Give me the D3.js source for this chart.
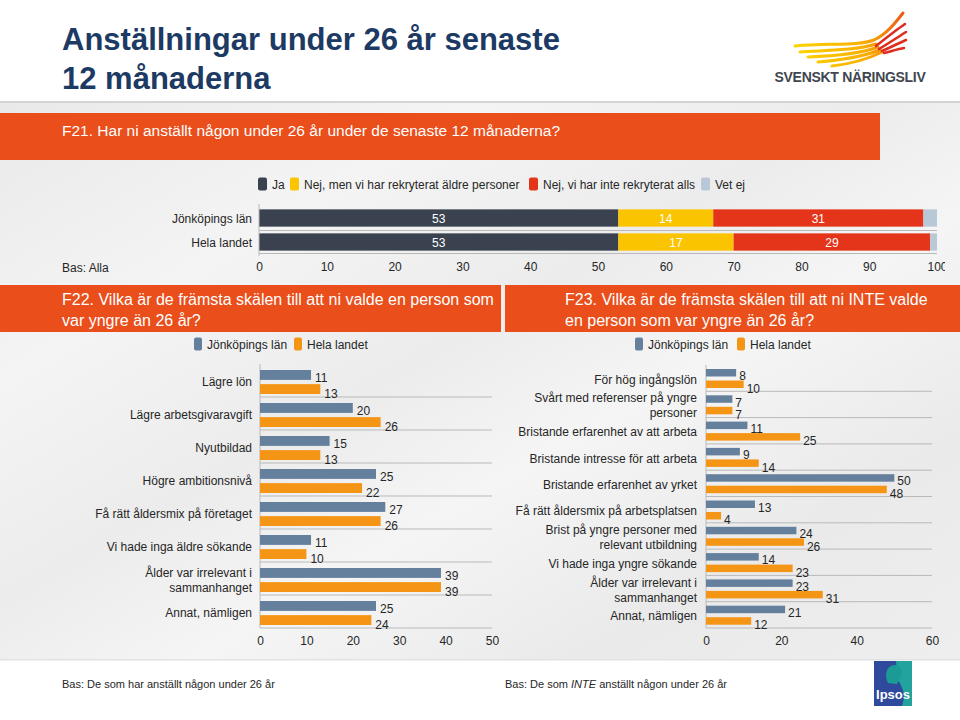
<!DOCTYPE html>
<html><head><meta charset="utf-8">
<script src="https://cdn.jsdelivr.net/npm/d3@7"></script>
<style>
body{margin:0;background:#fff;}
svg{display:block;font-family:"Liberation Sans",Arial,sans-serif;}
</style></head><body>
<svg id="c" width="960" height="720"></svg>
<script>
// ---------- DATA ----------
const f21Categories = ["Jönköpings län", "Hela landet"];
const f21SeriesNames = ["Ja", "Nej, men vi har rekryterat äldre personer", "Nej, vi har inte rekryterat alls", "Vet ej"];
const f21Ja = [53, 53];
const f21NejAldre = [14, 17];
const f21NejAlls = [31, 29];
const f21VetEj = [2, 1];
const f21Ticks = [0, 10, 20, 30, 40, 50, 60, 70, 80, 90, 100];

const seriesNames2 = ["Jönköpings län", "Hela landet"];

const f22Categories = ["Lägre lön", "Lägre arbetsgivaravgift", "Nyutbildad", "Högre ambitionsnivå",
  "Få rätt åldersmix på företaget", "Vi hade inga äldre sökande", "Ålder var irrelevant i\nsammanhanget", "Annat, nämligen"];
const f22Jonkoping = [11, 20, 15, 25, 27, 11, 39, 25];
const f22HelaLandet = [13, 26, 13, 22, 26, 10, 39, 24];
const f22Ticks = [0, 10, 20, 30, 40, 50];

const f23Categories = ["För hög ingångslön", "Svårt med referenser på yngre\npersoner", "Bristande erfarenhet av att arbeta",
  "Bristande intresse för att arbeta", "Bristande erfarenhet av yrket", "Få rätt åldersmix på arbetsplatsen",
  "Brist på yngre personer med\nrelevant utbildning", "Vi hade inga yngre sökande", "Ålder var irrelevant i\nsammanhanget", "Annat, nämligen"];
const f23Jonkoping = [8, 7, 11, 9, 50, 13, 24, 14, 23, 21];
const f23HelaLandet = [10, 7, 25, 14, 48, 4, 26, 23, 31, 12];
const f23Ticks = [0, 20, 40, 60];

// ---------- STYLE ----------
const C = {
  title: "#1c3a63", orange: "#e94e1b", text: "#262626",
  ja: "#39424e", nejAldre: "#fac400", nejAlls: "#e4341a", vetEj: "#b9c8d6",
  blue: "#64809d", org: "#f59516", grid: "#b9b9b9"
};
const svg = d3.select("#c");
const defs = svg.append("defs");

// background
const bg = defs.append("linearGradient").attr("id", "bg").attr("x1", 0).attr("y1", 0).attr("x2", 1).attr("y2", 1);
[[0, "#e9e9e9"], [0.25, "#f4f4f4"], [0.45, "#ececec"], [0.6, "#f5f5f5"], [0.8, "#eaeaea"], [1, "#eeeeee"]]
  .forEach(s => bg.append("stop").attr("offset", s[0]).attr("stop-color", s[1]));
svg.append("rect").attr("width", 960).attr("height", 720).attr("fill", "#fff");
svg.append("rect").attr("y", 103).attr("width", 960).attr("height", 557).attr("fill", "url(#bg)");
svg.append("rect").attr("y", 101).attr("width", 960).attr("height", 2).attr("fill", "#d4d4d4");
svg.append("rect").attr("y", 659).attr("width", 960).attr("height", 1.5).attr("fill", "#e2e2e2");

// title
svg.append("text").attr("x", 62).attr("y", 50).attr("font-size", 31).attr("font-weight", "bold")
  .attr("fill", C.title).text("Anställningar under 26 år senaste");
svg.append("text").attr("x", 62).attr("y", 89).attr("font-size", 31).attr("font-weight", "bold")
  .attr("fill", C.title).text("12 månaderna");

// Svenskt Näringsliv logo
const wg = defs.append("linearGradient").attr("id", "wing").attr("gradientUnits", "userSpaceOnUse")
  .attr("x1", 795).attr("y1", 50).attr("x2", 905).attr("y2", 20);
[[0, "#fdd300"], [0.6, "#f8ad00"], [0.85, "#f07a10"], [1, "#ea5a12"]]
  .forEach(s => wg.append("stop").attr("offset", s[0]).attr("stop-color", s[1]));
const wingsY = [
  "M795,46 C830,43 858,46 874,40 C887,34 896,22 903,13",
  "M800,52 C832,50 858,50 876,44",
  "M808,57 C836,56 860,54 878,47",
  "M818,62 C842,60 862,57 880,50",
  "M832,66 C850,64 866,60 882,52"
];
const wingsR = [
  "M876,46 C886,38 896,30 905,24",
  "M879,49 C889,43 898,37 906,32",
  "M882,51 C891,47 899,43 906,40",
  "M884,53 C892,51 898,49 904,48"
];
svg.append("g").selectAll("path").data(wingsY).join("path").attr("d", d => d)
  .attr("fill", "none").attr("stroke", "url(#wing)").attr("stroke-width", 3).attr("stroke-linecap", "round");
svg.append("g").selectAll("path").data(wingsR).join("path").attr("d", d => d)
  .attr("fill", "none").attr("stroke", "#de2c1e").attr("stroke-width", 2.6).attr("stroke-linecap", "round");
svg.append("text").attr("x", 850).attr("y", 82).attr("text-anchor", "middle").attr("font-size", 14)
  .attr("font-weight", "bold").attr("fill", "#3f4650").attr("letter-spacing", -0.3).text("SVENSKT NÄRINGSLIV");

// ---------- F21 band ----------
svg.append("rect").attr("x", 0).attr("y", 113).attr("width", 880).attr("height", 47).attr("fill", C.orange);
svg.append("text").attr("x", 62).attr("y", 136).attr("font-size", 15.5).attr("fill", "#fff")
  .text("F21. Har ni anställt någon under 26 år under de senaste 12 månaderna?");

// legend F21
const f21Colors = [C.ja, C.nejAldre, C.nejAlls, C.vetEj];
const leg1X = [258, 290, 529, 701];
const lg1 = svg.append("g").selectAll("g").data(f21SeriesNames).join("g")
  .attr("transform", (d, i) => `translate(${leg1X[i]},184)`);
lg1.append("rect").attr("x", 0).attr("y", -6.5).attr("width", 9).attr("height", 13).attr("rx", 2)
  .attr("fill", (d, i) => f21Colors[i]);
lg1.append("text").attr("x", 14).attr("y", 4.5).attr("font-size", 12).attr("fill", C.text).text(d => d);

// F21 stacked bars
const x21 = d3.scaleLinear().domain([0, 100]).range([259, 937]);
const y21 = d3.scaleBand().domain(f21Categories).range([206, 254]).paddingInner(0.28).paddingOuter(0.14);
const rows21 = f21Categories.map((c, i) => ({
  cat: c, [f21SeriesNames[0]]: f21Ja[i], [f21SeriesNames[1]]: f21NejAldre[i],
  [f21SeriesNames[2]]: f21NejAlls[i], [f21SeriesNames[3]]: f21VetEj[i]
}));
const stack21 = d3.stack().keys(f21SeriesNames)(rows21);
const g21 = svg.append("g");
g21.append("line").attr("x1", 259).attr("x2", 937).attr("y1", 230.5).attr("y2", 230.5).attr("stroke", C.grid);
g21.append("line").attr("x1", 259).attr("x2", 937).attr("y1", 253.5).attr("y2", 253.5).attr("stroke", C.grid);
stack21.forEach((s, si) => {
  const gs = g21.append("g");
  gs.selectAll("rect").data(s).join("rect")
    .attr("x", d => x21(d[0])).attr("y", d => y21(d.data.cat))
    .attr("width", d => x21(d[1]) - x21(d[0])).attr("height", y21.bandwidth())
    .attr("fill", f21Colors[si]);
  if (si < 3) {
    gs.selectAll("text").data(s).join("text")
      .attr("x", d => (x21(d[0]) + x21(d[1])) / 2).attr("y", d => y21(d.data.cat) + y21.bandwidth() / 2 + 5)
      .attr("text-anchor", "middle").attr("font-size", 12).attr("fill", "#fff")
      .text(d => d[1] - d[0]);
  }
});
g21.append("line").attr("x1", 259).attr("x2", 259).attr("y1", 204).attr("y2", 256).attr("stroke", C.grid);
g21.selectAll(".cl").data(f21Categories).join("text").attr("class", "cl")
  .attr("x", 252).attr("y", d => y21(d) + y21.bandwidth() / 2 + 4.5).attr("text-anchor", "end")
  .attr("font-size", 12).attr("fill", C.text).text(d => d);
const clip = defs.append("clipPath").attr("id", "clipR");
clip.append("rect").attr("x", 0).attr("y", 0).attr("width", 945).attr("height", 720);
const ax21 = g21.append("g").attr("transform", "translate(0,262)").attr("clip-path", "url(#clipR)")
  .call(d3.axisBottom(x21).tickValues(f21Ticks).tickSize(0).tickPadding(0).tickFormat(d3.format("d")));
ax21.select(".domain").remove();
ax21.selectAll("text").attr("font-size", 12).attr("fill", C.text).attr("font-family", "Liberation Sans, Arial, sans-serif").attr("dy", "0.71em");
svg.append("text").attr("x", 62).attr("y", 272).attr("font-size", 12).attr("fill", C.text).text("Bas: Alla");

// ---------- grouped bar chart helper ----------
function grouped(opt) {
  const g = svg.append("g");
  g.append("rect").attr("x", opt.bandX).attr("y", 285).attr("width", opt.bandW).attr("height", 47).attr("fill", C.orange);
  opt.header.forEach((t, i) => g.append("text").attr("x", opt.headX).attr("y", 305 + i * 21)
    .attr("font-size", 16).attr("fill", "#fff").text(t));
  const lcol = [C.blue, C.org];
  const lg = g.append("g").selectAll("g").data(seriesNames2).join("g")
    .attr("transform", (d, i) => `translate(${opt.legX[i]},344)`);
  lg.append("rect").attr("x", 0).attr("y", -6.5).attr("width", 8).attr("height", 13).attr("rx", 2).attr("fill", (d, i) => lcol[i]);
  lg.append("text").attr("x", 13).attr("y", 4.5).attr("font-size", 12).attr("fill", C.text).text(d => d);

  const x = d3.scaleLinear().domain(opt.domain).range([opt.x0, opt.x1]);
  const y = d3.scaleBand().domain(opt.cats).range([opt.yTop, 628]);
  const yi = d3.scaleBand().domain(seriesNames2).range(opt.inner).paddingInner(opt.innerPad);
  g.selectAll(".sep").data(opt.cats).join("line").attr("class", "sep")
    .attr("x1", opt.x0).attr("x2", opt.x1).attr("y1", d => y(d) + y.step()).attr("y2", d => y(d) + y.step())
    .attr("stroke", C.grid);
  g.append("line").attr("x1", opt.x0).attr("x2", opt.x0).attr("y1", opt.yTop).attr("y2", 628).attr("stroke", C.grid);
  const rows = opt.cats.map((c, i) => ({ cat: c, vals: [opt.a[i], opt.b[i]] }));
  const cg = g.selectAll(".cat").data(rows).join("g").attr("class", "cat")
    .attr("transform", d => `translate(0,${y(d.cat)})`);
  cg.selectAll("rect").data(d => d.vals.map((v, k) => ({ v, s: seriesNames2[k], k }))).join("rect")
    .attr("x", opt.x0).attr("y", d => yi(d.s)).attr("width", d => x(d.v) - opt.x0)
    .attr("height", yi.bandwidth()).attr("fill", d => lcol[d.k]);
  cg.selectAll("text.v").data(d => d.vals.map((v, k) => ({ v, s: seriesNames2[k], k }))).join("text").attr("class", "v")
    .attr("x", d => x(d.v) + opt.lblOff).attr("y", d => yi(d.s) + yi.bandwidth() / 2 + opt.lblDy[d.k] + 4.5)
    .attr("font-size", 12).attr("fill", C.text).text(d => d.v);
  cg.each(function (d) {
    const lines = d.cat.split("\n");
    const sel = d3.select(this);
    const mid = y.step() / 2 + 1;
    lines.forEach((ln, li) => {
      sel.append("text").attr("x", opt.labelX).attr("y", mid + (li - (lines.length - 1) / 2) * opt.lh + 4.5)
        .attr("text-anchor", "end").attr("font-size", 12).attr("fill", C.text).text(ln);
    });
  });
  const ax = g.append("g").attr("transform", "translate(0,636)")
    .call(d3.axisBottom(x).tickValues(opt.ticks).tickSize(0).tickPadding(0).tickFormat(d3.format("d")));
  ax.select(".domain").remove();
  ax.selectAll("text").attr("font-size", 12).attr("fill", C.text).attr("font-family", "Liberation Sans, Arial, sans-serif").attr("dy", "0.71em");
}

grouped({
  bandX: 0, bandW: 501, headX: 62,
  header: ["F22. Vilka är de främsta skälen till att ni valde en person som", "var yngre än 26 år?"],
  legX: [194, 294], domain: [0, 50], x0: 260, x1: 492, yTop: 364,
  cats: f22Categories, a: f22Jonkoping, b: f22HelaLandet, ticks: f22Ticks,
  inner: [6, 30], innerPad: 0.3, lblOff: 4, lblDy: [3, 4], labelX: 252, lh: 15
});
grouped({
  bandX: 505, bandW: 455, headX: 565,
  header: ["F23. Vilka är de främsta skälen till att ni INTE valde", "en person som var yngre än 26 år?"],
  legX: [635, 737], domain: [0, 60], x0: 706, x1: 932, yTop: 365,
  cats: f23Categories, a: f23Jonkoping, b: f23HelaLandet, ticks: f23Ticks,
  inner: [4, 23], innerPad: 0.35, lblOff: 3, lblDy: [3, 4], labelX: 697, lh: 15
});

// footnotes
svg.append("text").attr("x", 62).attr("y", 688).attr("font-size", 11).attr("fill", C.text)
  .text("Bas: De som har anställt någon under 26 år");
const ft = svg.append("text").attr("x", 505).attr("y", 688).attr("font-size", 11).attr("fill", C.text);
ft.append("tspan").text("Bas: De som ");
ft.append("tspan").attr("font-style", "italic").text("INTE");
ft.append("tspan").text(" anställt någon under 26 år");

// Ipsos logo
const ip = svg.append("g");
ip.append("rect").attr("x", 874).attr("y", 661).attr("width", 38).attr("height", 45).attr("fill", "#2f4a9c");
ip.append("path").attr("d", "M896,661 L912,661 L912,706 L902,706 C906,696 903,688 898,680 Z").attr("fill", "#22a39d");
ip.append("path").attr("d", "M888,683 C884,676 886,666 894,665 C901,665 903,671 901,676 C899,679 899,681 897,684 Z").attr("fill", "#1b9a96");
ip.append("text").attr("x", 893).attr("y", 699).attr("text-anchor", "middle").attr("font-size", 13)
  .attr("font-weight", "bold").attr("fill", "#fff").text("Ipsos");
</script>
</body></html>
